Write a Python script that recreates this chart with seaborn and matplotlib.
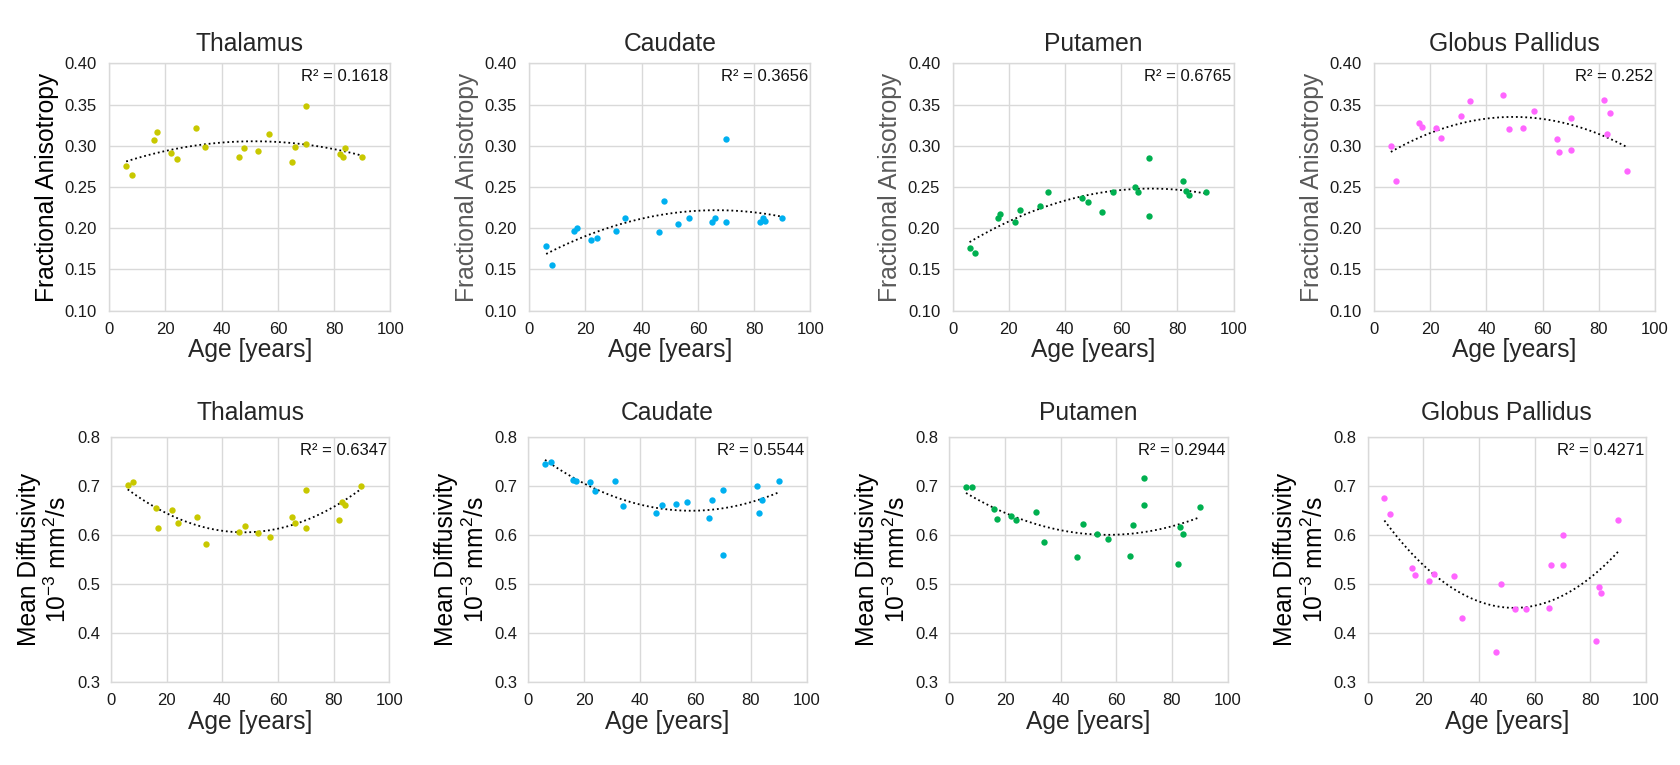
import numpy as np
import pandas as pd
import seaborn as sns
import matplotlib.pyplot as plt

# ages (same subjects in every panel)
age = [6, 8, 16, 17, 22, 24, 31, 34, 46, 48, 53, 57, 65, 66, 70, 70, 82, 83, 84, 90]

regions = ['Thalamus', 'Caudate', 'Putamen', 'Globus Pallidus']
colors = ['#C8C800', '#00B0F0', '#00B050', '#FF66FF']

fa_thalamus = [0.276, 0.264, 0.307, 0.317, 0.291, 0.284, 0.322, 0.299, 0.286, 0.297,
               0.294, 0.314, 0.280, 0.299, 0.348, 0.302, 0.290, 0.286, 0.297, 0.286]
fa_caudate = [0.179, 0.155, 0.197, 0.200, 0.186, 0.188, 0.197, 0.212, 0.196, 0.233,
              0.205, 0.212, 0.208, 0.213, 0.308, 0.208, 0.207, 0.212, 0.209, 0.213]
fa_putamen = [0.176, 0.170, 0.213, 0.217, 0.208, 0.222, 0.227, 0.244, 0.237, 0.232,
              0.220, 0.244, 0.250, 0.244, 0.285, 0.215, 0.257, 0.245, 0.240, 0.244]
fa_pallidus = [0.300, 0.257, 0.328, 0.323, 0.321, 0.309, 0.336, 0.354, 0.362, 0.320,
               0.321, 0.342, 0.308, 0.292, 0.295, 0.334, 0.356, 0.314, 0.340, 0.269]

md_thalamus = [0.702, 0.707, 0.654, 0.615, 0.650, 0.625, 0.637, 0.581, 0.605, 0.618,
               0.603, 0.595, 0.637, 0.624, 0.692, 0.615, 0.631, 0.667, 0.660, 0.700]
md_caudate = [0.745, 0.748, 0.712, 0.709, 0.707, 0.689, 0.709, 0.659, 0.645, 0.660,
              0.664, 0.668, 0.634, 0.671, 0.691, 0.559, 0.700, 0.644, 0.671, 0.709]
md_putamen = [0.697, 0.697, 0.652, 0.633, 0.639, 0.630, 0.646, 0.585, 0.555, 0.622,
              0.601, 0.591, 0.558, 0.620, 0.716, 0.661, 0.540, 0.616, 0.602, 0.656]
md_pallidus = [0.675, 0.643, 0.532, 0.519, 0.507, 0.521, 0.517, 0.430, 0.361, 0.501,
               0.449, 0.449, 0.452, 0.538, 0.600, 0.539, 0.384, 0.493, 0.481, 0.630]

fa_r2 = ['0.1618', '0.3656', '0.6765', '0.252']
md_r2 = ['0.6347', '0.5544', '0.2944', '0.4271']

fa_ticks = [0.10, 0.15, 0.20, 0.25, 0.30, 0.35, 0.40]
md_ticks = [0.3, 0.4, 0.5, 0.6, 0.7, 0.8]
age_ticks = [0, 20, 40, 60, 80, 100]

sns.set_theme(style='whitegrid')
plt.rcParams['font.family'] = ['Liberation Sans', 'DejaVu Sans']
plt.rcParams['mathtext.fontset'] = 'custom'
plt.rcParams['mathtext.rm'] = 'Liberation Sans'
plt.rcParams['mathtext.it'] = 'Liberation Sans'

W, H = 1681, 765
fig = plt.figure(figsize=(W / 100, H / 100), dpi=100)

top_left = [109.3, 529.3, 952.7, 1374]
bot_left = [111, 528.3, 949.3, 1367.7]


def panel(ax, y, color, title, r2, ticks, fmt, ylabel, ylabel_color, title_pad, ypad):
    df = pd.DataFrame({'age': age, 'val': y})
    # quadratic trendline, like excel's polynomial (order 2)
    sns.regplot(data=df, x='age', y='val', order=2, ci=None, scatter=False, ax=ax,
                line_kws={'color': 'black', 'lw': 1.3, 'ls': (0, (1, 1.6))})
    sns.scatterplot(data=df, x='age', y='val', color=color, s=21, linewidth=0, ax=ax, zorder=3)
    ax.set_xlim(0, 100)
    ax.set_ylim(ticks[0], ticks[-1])
    ax.set_xticks(age_ticks)
    ax.set_yticks(ticks)
    ax.set_yticklabels([fmt % t for t in ticks])
    ax.tick_params(axis='x', labelsize=12, length=0, pad=8, labelcolor='#1a1a1a')
    ax.tick_params(axis='y', labelsize=12, length=0, pad=ypad, labelcolor='#1a1a1a')
    ax.grid(True, color='#D9D9D9', lw=1)
    for s in ax.spines.values():
        s.set_color('#D9D9D9')
        s.set_linewidth(1)
    ax.set_title(title, fontsize=17.7, pad=title_pad)
    ax.set_xlabel('Age [years]', fontsize=17.7, labelpad=1)
    ax.set_ylabel(ylabel, fontsize=17.7, color=ylabel_color, labelpad=4)
    ax.text(0.993, 0.975, 'R² = ' + r2, transform=ax.transAxes, ha='right', va='top',
            fontsize=12, color='#111111')


fa_data = [fa_thalamus, fa_caudate, fa_putamen, fa_pallidus]
md_data = [md_thalamus, md_caudate, md_putamen, md_pallidus]

for i in range(4):
    ax = fig.add_axes([top_left[i] / W, 1 - 310.7 / H, 281 / W, 247.4 / H])
    ycol = 'black' if i == 0 else '#595959'
    panel(ax, fa_data[i], colors[i], regions[i], fa_r2[i], fa_ticks, '%.2f',
          'Fractional Anisotropy', ycol, 9, 9)

for i in range(4):
    ax = fig.add_axes([bot_left[i] / W, 1 - 682.3 / H, 278.3 / W, 245.6 / H])
    panel(ax, md_data[i], colors[i], regions[i], md_r2[i], md_ticks, '%.1f',
          'Mean Diffusivity\n10$^{-3}$ mm$^{2}$/s', 'black', 12, 8)

plt.savefig('out.png', dpi=100)
plt.close('all')
